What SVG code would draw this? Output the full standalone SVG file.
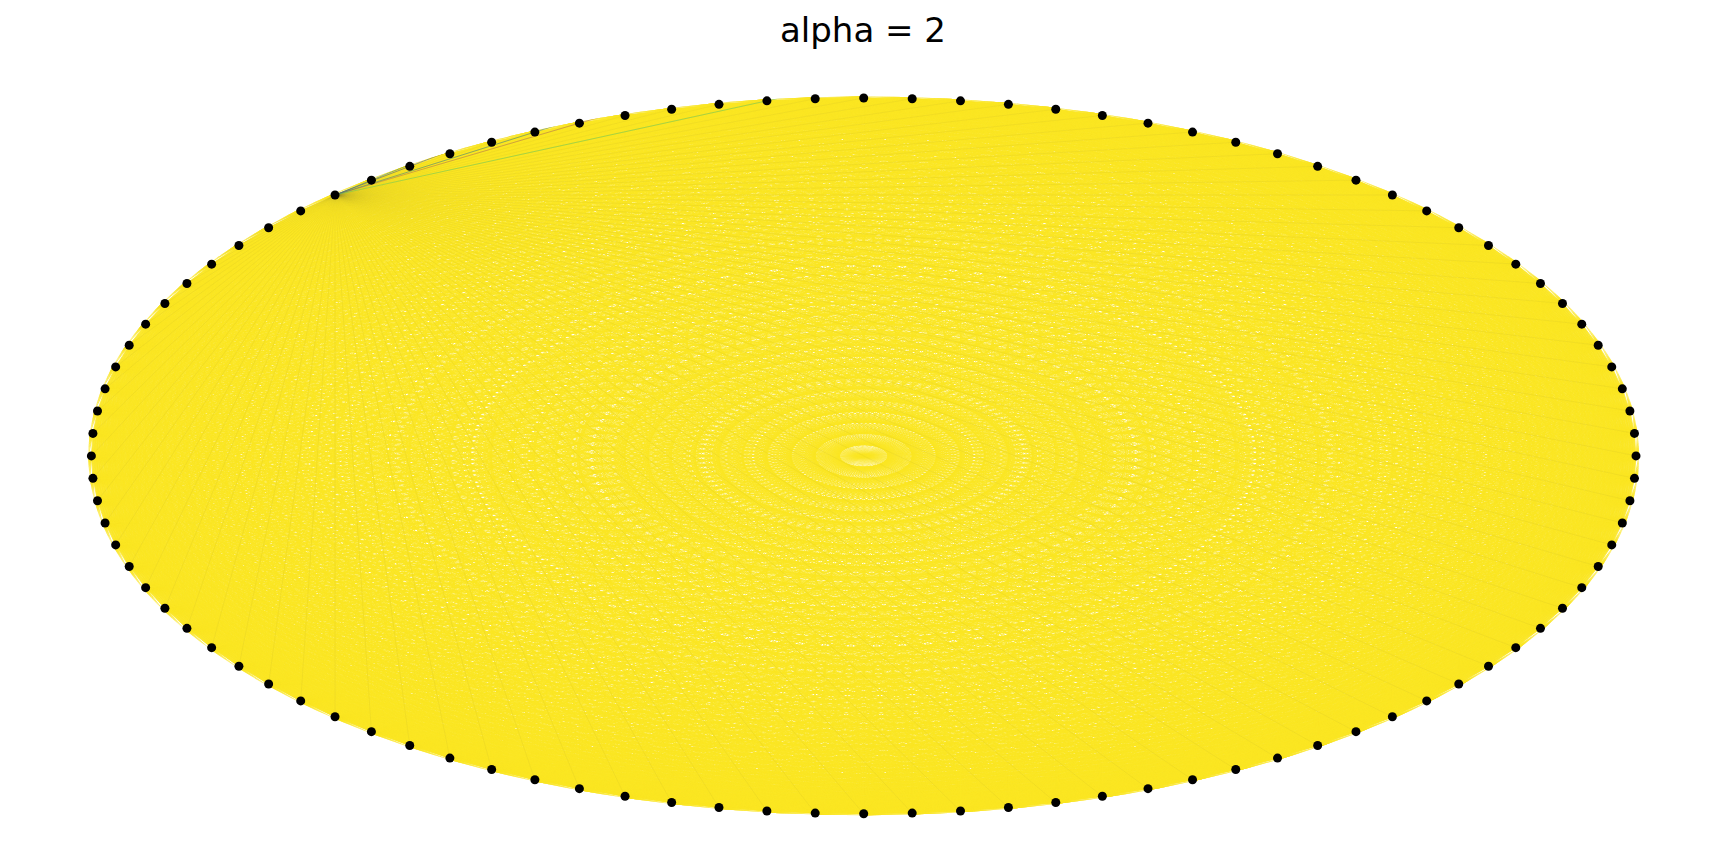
<svg xmlns="http://www.w3.org/2000/svg" xmlns:xlink="http://www.w3.org/1999/xlink" width="1728" height="865" viewBox="0 0 1728 865">
<style>
.title{font-family:"DejaVu Sans",sans-serif;font-size:34px;fill:#000}
.dot{fill:#000}
</style>
<defs>
<clipPath id="clip" clipPathUnits="userSpaceOnUse"><circle cx="0" cy="0" r="1.004"/></clipPath>
<g id="fan">
<line x1="1" y1="0" x2="1" y2="-2.2" transform="rotate(-1.8 1 0)" vector-effect="non-scaling-stroke"/>
<line x1="1" y1="0" x2="1" y2="-2.2" transform="rotate(-3.6 1 0)" vector-effect="non-scaling-stroke"/>
<line x1="1" y1="0" x2="1" y2="-2.2" transform="rotate(-5.4 1 0)" vector-effect="non-scaling-stroke"/>
<line x1="1" y1="0" x2="1" y2="-2.2" transform="rotate(-7.2 1 0)" vector-effect="non-scaling-stroke"/>
<line x1="1" y1="0" x2="1" y2="-2.2" transform="rotate(-9 1 0)" vector-effect="non-scaling-stroke"/>
<line x1="1" y1="0" x2="1" y2="-2.2" transform="rotate(-10.8 1 0)" vector-effect="non-scaling-stroke"/>
<line x1="1" y1="0" x2="1" y2="-2.2" transform="rotate(-12.6 1 0)" vector-effect="non-scaling-stroke"/>
<line x1="1" y1="0" x2="1" y2="-2.2" transform="rotate(-14.4 1 0)" vector-effect="non-scaling-stroke"/>
<line x1="1" y1="0" x2="1" y2="-2.2" transform="rotate(-16.2 1 0)" vector-effect="non-scaling-stroke"/>
<line x1="1" y1="0" x2="1" y2="-2.2" transform="rotate(-18 1 0)" vector-effect="non-scaling-stroke"/>
<line x1="1" y1="0" x2="1" y2="-2.2" transform="rotate(-19.8 1 0)" vector-effect="non-scaling-stroke"/>
<line x1="1" y1="0" x2="1" y2="-2.2" transform="rotate(-21.6 1 0)" vector-effect="non-scaling-stroke"/>
<line x1="1" y1="0" x2="1" y2="-2.2" transform="rotate(-23.4 1 0)" vector-effect="non-scaling-stroke"/>
<line x1="1" y1="0" x2="1" y2="-2.2" transform="rotate(-25.2 1 0)" vector-effect="non-scaling-stroke"/>
<line x1="1" y1="0" x2="1" y2="-2.2" transform="rotate(-27 1 0)" vector-effect="non-scaling-stroke"/>
<line x1="1" y1="0" x2="1" y2="-2.2" transform="rotate(-28.8 1 0)" vector-effect="non-scaling-stroke"/>
<line x1="1" y1="0" x2="1" y2="-2.2" transform="rotate(-30.6 1 0)" vector-effect="non-scaling-stroke"/>
<line x1="1" y1="0" x2="1" y2="-2.2" transform="rotate(-32.4 1 0)" vector-effect="non-scaling-stroke"/>
<line x1="1" y1="0" x2="1" y2="-2.2" transform="rotate(-34.2 1 0)" vector-effect="non-scaling-stroke"/>
<line x1="1" y1="0" x2="1" y2="-2.2" transform="rotate(-36 1 0)" vector-effect="non-scaling-stroke"/>
<line x1="1" y1="0" x2="1" y2="-2.2" transform="rotate(-37.8 1 0)" vector-effect="non-scaling-stroke"/>
<line x1="1" y1="0" x2="1" y2="-2.2" transform="rotate(-39.6 1 0)" vector-effect="non-scaling-stroke"/>
<line x1="1" y1="0" x2="1" y2="-2.2" transform="rotate(-41.4 1 0)" vector-effect="non-scaling-stroke"/>
<line x1="1" y1="0" x2="1" y2="-2.2" transform="rotate(-43.2 1 0)" vector-effect="non-scaling-stroke"/>
<line x1="1" y1="0" x2="1" y2="-2.2" transform="rotate(-45 1 0)" vector-effect="non-scaling-stroke"/>
<line x1="1" y1="0" x2="1" y2="-2.2" transform="rotate(-46.8 1 0)" vector-effect="non-scaling-stroke"/>
<line x1="1" y1="0" x2="1" y2="-2.2" transform="rotate(-48.6 1 0)" vector-effect="non-scaling-stroke"/>
<line x1="1" y1="0" x2="1" y2="-2.2" transform="rotate(-50.4 1 0)" vector-effect="non-scaling-stroke"/>
<line x1="1" y1="0" x2="1" y2="-2.2" transform="rotate(-52.2 1 0)" vector-effect="non-scaling-stroke"/>
<line x1="1" y1="0" x2="1" y2="-2.2" transform="rotate(-54 1 0)" vector-effect="non-scaling-stroke"/>
<line x1="1" y1="0" x2="1" y2="-2.2" transform="rotate(-55.8 1 0)" vector-effect="non-scaling-stroke"/>
<line x1="1" y1="0" x2="1" y2="-2.2" transform="rotate(-57.6 1 0)" vector-effect="non-scaling-stroke"/>
<line x1="1" y1="0" x2="1" y2="-2.2" transform="rotate(-59.4 1 0)" vector-effect="non-scaling-stroke"/>
<line x1="1" y1="0" x2="1" y2="-2.2" transform="rotate(-61.2 1 0)" vector-effect="non-scaling-stroke"/>
<line x1="1" y1="0" x2="1" y2="-2.2" transform="rotate(-63 1 0)" vector-effect="non-scaling-stroke"/>
<line x1="1" y1="0" x2="1" y2="-2.2" transform="rotate(-64.8 1 0)" vector-effect="non-scaling-stroke"/>
<line x1="1" y1="0" x2="1" y2="-2.2" transform="rotate(-66.6 1 0)" vector-effect="non-scaling-stroke"/>
<line x1="1" y1="0" x2="1" y2="-2.2" transform="rotate(-68.4 1 0)" vector-effect="non-scaling-stroke"/>
<line x1="1" y1="0" x2="1" y2="-2.2" transform="rotate(-70.2 1 0)" vector-effect="non-scaling-stroke"/>
<line x1="1" y1="0" x2="1" y2="-2.2" transform="rotate(-72 1 0)" vector-effect="non-scaling-stroke"/>
<line x1="1" y1="0" x2="1" y2="-2.2" transform="rotate(-73.8 1 0)" vector-effect="non-scaling-stroke"/>
<line x1="1" y1="0" x2="1" y2="-2.2" transform="rotate(-75.6 1 0)" vector-effect="non-scaling-stroke"/>
<line x1="1" y1="0" x2="1" y2="-2.2" transform="rotate(-77.4 1 0)" vector-effect="non-scaling-stroke"/>
<line x1="1" y1="0" x2="1" y2="-2.2" transform="rotate(-79.2 1 0)" vector-effect="non-scaling-stroke"/>
<line x1="1" y1="0" x2="1" y2="-2.2" transform="rotate(-81 1 0)" vector-effect="non-scaling-stroke"/>
<line x1="1" y1="0" x2="1" y2="-2.2" transform="rotate(-82.8 1 0)" vector-effect="non-scaling-stroke"/>
<line x1="1" y1="0" x2="1" y2="-2.2" transform="rotate(-84.6 1 0)" vector-effect="non-scaling-stroke"/>
<line x1="1" y1="0" x2="1" y2="-2.2" transform="rotate(-86.4 1 0)" vector-effect="non-scaling-stroke"/>
<line x1="1" y1="0" x2="1" y2="-2.2" transform="rotate(-88.2 1 0)" vector-effect="non-scaling-stroke"/>
</g>
<line id="dia" x1="1" y1="0" x2="-1" y2="0" vector-effect="non-scaling-stroke"/>
</defs>
<rect x="0" y="0" width="1728" height="865" fill="#ffffff"/>
<text class="title" x="863" y="42" text-anchor="middle">alpha = 2</text>
<g id="connectors" transform="translate(863.7 455.9) scale(772.3 357.9)">
<g clip-path="url(#clip)" fill="none">
<g id="edges-all" stroke="#fbe622" stroke-width="1" stroke-opacity="0.72">
<use href="#fan" transform="rotate(0)"/><use href="#fan" transform="rotate(-3.6)"/><use href="#fan" transform="rotate(-7.2)"/><use href="#fan" transform="rotate(-10.8)"/><use href="#fan" transform="rotate(-14.4)"/><use href="#fan" transform="rotate(-18)"/><use href="#fan" transform="rotate(-21.6)"/><use href="#fan" transform="rotate(-25.2)"/><use href="#fan" transform="rotate(-28.8)"/><use href="#fan" transform="rotate(-32.4)"/>
<use href="#fan" transform="rotate(-36)"/><use href="#fan" transform="rotate(-39.6)"/><use href="#fan" transform="rotate(-43.2)"/><use href="#fan" transform="rotate(-46.8)"/><use href="#fan" transform="rotate(-50.4)"/><use href="#fan" transform="rotate(-54)"/><use href="#fan" transform="rotate(-57.6)"/><use href="#fan" transform="rotate(-61.2)"/><use href="#fan" transform="rotate(-64.8)"/><use href="#fan" transform="rotate(-68.4)"/>
<use href="#fan" transform="rotate(-72)"/><use href="#fan" transform="rotate(-75.6)"/><use href="#fan" transform="rotate(-79.2)"/><use href="#fan" transform="rotate(-82.8)"/><use href="#fan" transform="rotate(-86.4)"/><use href="#fan" transform="rotate(-90)"/><use href="#fan" transform="rotate(-93.6)"/><use href="#fan" transform="rotate(-97.2)"/><use href="#fan" transform="rotate(-100.8)"/><use href="#fan" transform="rotate(-104.4)"/>
<use href="#fan" transform="rotate(-108)"/><use href="#fan" transform="rotate(-111.6)"/><use href="#fan" transform="rotate(-115.2)"/><use href="#fan" transform="rotate(-118.8)"/><use href="#fan" transform="rotate(-122.4)"/><use href="#fan" transform="rotate(-126)"/><use href="#fan" transform="rotate(-129.6)"/><use href="#fan" transform="rotate(-133.2)"/><use href="#fan" transform="rotate(-136.8)"/><use href="#fan" transform="rotate(-140.4)"/>
<use href="#fan" transform="rotate(-144)"/><use href="#fan" transform="rotate(-147.6)"/><use href="#fan" transform="rotate(-151.2)"/><use href="#fan" transform="rotate(-154.8)"/><use href="#fan" transform="rotate(-158.4)"/><use href="#fan" transform="rotate(-162)"/><use href="#fan" transform="rotate(-165.6)"/><use href="#fan" transform="rotate(-169.2)"/><use href="#fan" transform="rotate(-172.8)"/><use href="#fan" transform="rotate(-176.4)"/>
<use href="#fan" transform="rotate(-180)"/><use href="#fan" transform="rotate(-183.6)"/><use href="#fan" transform="rotate(-187.2)"/><use href="#fan" transform="rotate(-190.8)"/><use href="#fan" transform="rotate(-194.4)"/><use href="#fan" transform="rotate(-198)"/><use href="#fan" transform="rotate(-201.6)"/><use href="#fan" transform="rotate(-205.2)"/><use href="#fan" transform="rotate(-208.8)"/><use href="#fan" transform="rotate(-212.4)"/>
<use href="#fan" transform="rotate(-216)"/><use href="#fan" transform="rotate(-219.6)"/><use href="#fan" transform="rotate(-223.2)"/><use href="#fan" transform="rotate(-226.8)"/><use href="#fan" transform="rotate(-230.4)"/><use href="#fan" transform="rotate(-234)"/><use href="#fan" transform="rotate(-237.6)"/><use href="#fan" transform="rotate(-241.2)"/><use href="#fan" transform="rotate(-244.8)"/><use href="#fan" transform="rotate(-248.4)"/>
<use href="#fan" transform="rotate(-252)"/><use href="#fan" transform="rotate(-255.6)"/><use href="#fan" transform="rotate(-259.2)"/><use href="#fan" transform="rotate(-262.8)"/><use href="#fan" transform="rotate(-266.4)"/><use href="#fan" transform="rotate(-270)"/><use href="#fan" transform="rotate(-273.6)"/><use href="#fan" transform="rotate(-277.2)"/><use href="#fan" transform="rotate(-280.8)"/><use href="#fan" transform="rotate(-284.4)"/>
<use href="#fan" transform="rotate(-288)"/><use href="#fan" transform="rotate(-291.6)"/><use href="#fan" transform="rotate(-295.2)"/><use href="#fan" transform="rotate(-298.8)"/><use href="#fan" transform="rotate(-302.4)"/><use href="#fan" transform="rotate(-306)"/><use href="#fan" transform="rotate(-309.6)"/><use href="#fan" transform="rotate(-313.2)"/><use href="#fan" transform="rotate(-316.8)"/><use href="#fan" transform="rotate(-320.4)"/>
<use href="#fan" transform="rotate(-324)"/><use href="#fan" transform="rotate(-327.6)"/><use href="#fan" transform="rotate(-331.2)"/><use href="#fan" transform="rotate(-334.8)"/><use href="#fan" transform="rotate(-338.4)"/><use href="#fan" transform="rotate(-342)"/><use href="#fan" transform="rotate(-345.6)"/><use href="#fan" transform="rotate(-349.2)"/><use href="#fan" transform="rotate(-352.8)"/><use href="#fan" transform="rotate(-356.4)"/>
<use href="#dia" transform="rotate(0)"/><use href="#dia" transform="rotate(-3.6)"/><use href="#dia" transform="rotate(-7.2)"/><use href="#dia" transform="rotate(-10.8)"/><use href="#dia" transform="rotate(-14.4)"/><use href="#dia" transform="rotate(-18)"/><use href="#dia" transform="rotate(-21.6)"/><use href="#dia" transform="rotate(-25.2)"/><use href="#dia" transform="rotate(-28.8)"/><use href="#dia" transform="rotate(-32.4)"/>
<use href="#dia" transform="rotate(-36)"/><use href="#dia" transform="rotate(-39.6)"/><use href="#dia" transform="rotate(-43.2)"/><use href="#dia" transform="rotate(-46.8)"/><use href="#dia" transform="rotate(-50.4)"/><use href="#dia" transform="rotate(-54)"/><use href="#dia" transform="rotate(-57.6)"/><use href="#dia" transform="rotate(-61.2)"/><use href="#dia" transform="rotate(-64.8)"/><use href="#dia" transform="rotate(-68.4)"/>
<use href="#dia" transform="rotate(-72)"/><use href="#dia" transform="rotate(-75.6)"/><use href="#dia" transform="rotate(-79.2)"/><use href="#dia" transform="rotate(-82.8)"/><use href="#dia" transform="rotate(-86.4)"/><use href="#dia" transform="rotate(-90)"/><use href="#dia" transform="rotate(-93.6)"/><use href="#dia" transform="rotate(-97.2)"/><use href="#dia" transform="rotate(-100.8)"/><use href="#dia" transform="rotate(-104.4)"/>
<use href="#dia" transform="rotate(-108)"/><use href="#dia" transform="rotate(-111.6)"/><use href="#dia" transform="rotate(-115.2)"/><use href="#dia" transform="rotate(-118.8)"/><use href="#dia" transform="rotate(-122.4)"/><use href="#dia" transform="rotate(-126)"/><use href="#dia" transform="rotate(-129.6)"/><use href="#dia" transform="rotate(-133.2)"/><use href="#dia" transform="rotate(-136.8)"/><use href="#dia" transform="rotate(-140.4)"/>
<use href="#dia" transform="rotate(-144)"/><use href="#dia" transform="rotate(-147.6)"/><use href="#dia" transform="rotate(-151.2)"/><use href="#dia" transform="rotate(-154.8)"/><use href="#dia" transform="rotate(-158.4)"/><use href="#dia" transform="rotate(-162)"/><use href="#dia" transform="rotate(-165.6)"/><use href="#dia" transform="rotate(-169.2)"/><use href="#dia" transform="rotate(-172.8)"/><use href="#dia" transform="rotate(-176.4)"/>
</g>
<g id="edges-node37" transform="rotate(-133.2)" stroke="#605c50" stroke-opacity="0.07" stroke-width="0.8">
<use href="#fan"/><use href="#fan" transform="scale(1 -1)"/><use href="#dia"/>
</g>
<g id="edges-node37-near" transform="rotate(-133.2)" stroke-width="1" stroke-opacity="0.5">
<line x1="1" y1="0" x2="1" y2="2.2" transform="rotate(1.8 1 0)" stroke="#2a788e" vector-effect="non-scaling-stroke"/>
<line x1="1" y1="0" x2="1" y2="2.2" transform="rotate(3.6 1 0)" stroke="#3b528b" vector-effect="non-scaling-stroke"/>
<line x1="1" y1="0" x2="1" y2="2.2" transform="rotate(10.8 1 0)" stroke="#b06a55" vector-effect="non-scaling-stroke"/>
<line x1="1" y1="0" x2="1" y2="2.2" transform="rotate(9 1 0)" stroke="#2a788e" vector-effect="non-scaling-stroke"/>
<line x1="1" y1="0" x2="1" y2="2.2" transform="rotate(18 1 0)" stroke="#5ec962" vector-effect="non-scaling-stroke"/>
</g>
</g>
</g>
<g id="nodes" transform="translate(863.7 455.9) scale(772.3 357.9)" class="dot">
<g id="node-0" transform="rotate(0) translate(1 0) rotate(0) scale(0.00129483 0.00279408)"><circle r="4.5"/></g>
<g id="node-1" transform="rotate(-3.6) translate(1 0) rotate(3.6) scale(0.00129483 0.00279408)"><circle r="4.5"/></g>
<g id="node-2" transform="rotate(-7.2) translate(1 0) rotate(7.2) scale(0.00129483 0.00279408)"><circle r="4.5"/></g>
<g id="node-3" transform="rotate(-10.8) translate(1 0) rotate(10.8) scale(0.00129483 0.00279408)"><circle r="4.5"/></g>
<g id="node-4" transform="rotate(-14.4) translate(1 0) rotate(14.4) scale(0.00129483 0.00279408)"><circle r="4.5"/></g>
<g id="node-5" transform="rotate(-18) translate(1 0) rotate(18) scale(0.00129483 0.00279408)"><circle r="4.5"/></g>
<g id="node-6" transform="rotate(-21.6) translate(1 0) rotate(21.6) scale(0.00129483 0.00279408)"><circle r="4.5"/></g>
<g id="node-7" transform="rotate(-25.2) translate(1 0) rotate(25.2) scale(0.00129483 0.00279408)"><circle r="4.5"/></g>
<g id="node-8" transform="rotate(-28.8) translate(1 0) rotate(28.8) scale(0.00129483 0.00279408)"><circle r="4.5"/></g>
<g id="node-9" transform="rotate(-32.4) translate(1 0) rotate(32.4) scale(0.00129483 0.00279408)"><circle r="4.5"/></g>
<g id="node-10" transform="rotate(-36) translate(1 0) rotate(36) scale(0.00129483 0.00279408)"><circle r="4.5"/></g>
<g id="node-11" transform="rotate(-39.6) translate(1 0) rotate(39.6) scale(0.00129483 0.00279408)"><circle r="4.5"/></g>
<g id="node-12" transform="rotate(-43.2) translate(1 0) rotate(43.2) scale(0.00129483 0.00279408)"><circle r="4.5"/></g>
<g id="node-13" transform="rotate(-46.8) translate(1 0) rotate(46.8) scale(0.00129483 0.00279408)"><circle r="4.5"/></g>
<g id="node-14" transform="rotate(-50.4) translate(1 0) rotate(50.4) scale(0.00129483 0.00279408)"><circle r="4.5"/></g>
<g id="node-15" transform="rotate(-54) translate(1 0) rotate(54) scale(0.00129483 0.00279408)"><circle r="4.5"/></g>
<g id="node-16" transform="rotate(-57.6) translate(1 0) rotate(57.6) scale(0.00129483 0.00279408)"><circle r="4.5"/></g>
<g id="node-17" transform="rotate(-61.2) translate(1 0) rotate(61.2) scale(0.00129483 0.00279408)"><circle r="4.5"/></g>
<g id="node-18" transform="rotate(-64.8) translate(1 0) rotate(64.8) scale(0.00129483 0.00279408)"><circle r="4.5"/></g>
<g id="node-19" transform="rotate(-68.4) translate(1 0) rotate(68.4) scale(0.00129483 0.00279408)"><circle r="4.5"/></g>
<g id="node-20" transform="rotate(-72) translate(1 0) rotate(72) scale(0.00129483 0.00279408)"><circle r="4.5"/></g>
<g id="node-21" transform="rotate(-75.6) translate(1 0) rotate(75.6) scale(0.00129483 0.00279408)"><circle r="4.5"/></g>
<g id="node-22" transform="rotate(-79.2) translate(1 0) rotate(79.2) scale(0.00129483 0.00279408)"><circle r="4.5"/></g>
<g id="node-23" transform="rotate(-82.8) translate(1 0) rotate(82.8) scale(0.00129483 0.00279408)"><circle r="4.5"/></g>
<g id="node-24" transform="rotate(-86.4) translate(1 0) rotate(86.4) scale(0.00129483 0.00279408)"><circle r="4.5"/></g>
<g id="node-25" transform="rotate(-90) translate(1 0) rotate(90) scale(0.00129483 0.00279408)"><circle r="4.5"/></g>
<g id="node-26" transform="rotate(-93.6) translate(1 0) rotate(93.6) scale(0.00129483 0.00279408)"><circle r="4.5"/></g>
<g id="node-27" transform="rotate(-97.2) translate(1 0) rotate(97.2) scale(0.00129483 0.00279408)"><circle r="4.5"/></g>
<g id="node-28" transform="rotate(-100.8) translate(1 0) rotate(100.8) scale(0.00129483 0.00279408)"><circle r="4.5"/></g>
<g id="node-29" transform="rotate(-104.4) translate(1 0) rotate(104.4) scale(0.00129483 0.00279408)"><circle r="4.5"/></g>
<g id="node-30" transform="rotate(-108) translate(1 0) rotate(108) scale(0.00129483 0.00279408)"><circle r="4.5"/></g>
<g id="node-31" transform="rotate(-111.6) translate(1 0) rotate(111.6) scale(0.00129483 0.00279408)"><circle r="4.5"/></g>
<g id="node-32" transform="rotate(-115.2) translate(1 0) rotate(115.2) scale(0.00129483 0.00279408)"><circle r="4.5"/></g>
<g id="node-33" transform="rotate(-118.8) translate(1 0) rotate(118.8) scale(0.00129483 0.00279408)"><circle r="4.5"/></g>
<g id="node-34" transform="rotate(-122.4) translate(1 0) rotate(122.4) scale(0.00129483 0.00279408)"><circle r="4.5"/></g>
<g id="node-35" transform="rotate(-126) translate(1 0) rotate(126) scale(0.00129483 0.00279408)"><circle r="4.5"/></g>
<g id="node-36" transform="rotate(-129.6) translate(1 0) rotate(129.6) scale(0.00129483 0.00279408)"><circle r="4.5"/></g>
<g id="node-37" transform="rotate(-133.2) translate(1 0) rotate(133.2) scale(0.00129483 0.00279408)"><circle r="4.5"/></g>
<g id="node-38" transform="rotate(-136.8) translate(1 0) rotate(136.8) scale(0.00129483 0.00279408)"><circle r="4.5"/></g>
<g id="node-39" transform="rotate(-140.4) translate(1 0) rotate(140.4) scale(0.00129483 0.00279408)"><circle r="4.5"/></g>
<g id="node-40" transform="rotate(-144) translate(1 0) rotate(144) scale(0.00129483 0.00279408)"><circle r="4.5"/></g>
<g id="node-41" transform="rotate(-147.6) translate(1 0) rotate(147.6) scale(0.00129483 0.00279408)"><circle r="4.5"/></g>
<g id="node-42" transform="rotate(-151.2) translate(1 0) rotate(151.2) scale(0.00129483 0.00279408)"><circle r="4.5"/></g>
<g id="node-43" transform="rotate(-154.8) translate(1 0) rotate(154.8) scale(0.00129483 0.00279408)"><circle r="4.5"/></g>
<g id="node-44" transform="rotate(-158.4) translate(1 0) rotate(158.4) scale(0.00129483 0.00279408)"><circle r="4.5"/></g>
<g id="node-45" transform="rotate(-162) translate(1 0) rotate(162) scale(0.00129483 0.00279408)"><circle r="4.5"/></g>
<g id="node-46" transform="rotate(-165.6) translate(1 0) rotate(165.6) scale(0.00129483 0.00279408)"><circle r="4.5"/></g>
<g id="node-47" transform="rotate(-169.2) translate(1 0) rotate(169.2) scale(0.00129483 0.00279408)"><circle r="4.5"/></g>
<g id="node-48" transform="rotate(-172.8) translate(1 0) rotate(172.8) scale(0.00129483 0.00279408)"><circle r="4.5"/></g>
<g id="node-49" transform="rotate(-176.4) translate(1 0) rotate(176.4) scale(0.00129483 0.00279408)"><circle r="4.5"/></g>
<g id="node-50" transform="rotate(-180) translate(1 0) rotate(180) scale(0.00129483 0.00279408)"><circle r="4.5"/></g>
<g id="node-51" transform="rotate(-183.6) translate(1 0) rotate(183.6) scale(0.00129483 0.00279408)"><circle r="4.5"/></g>
<g id="node-52" transform="rotate(-187.2) translate(1 0) rotate(187.2) scale(0.00129483 0.00279408)"><circle r="4.5"/></g>
<g id="node-53" transform="rotate(-190.8) translate(1 0) rotate(190.8) scale(0.00129483 0.00279408)"><circle r="4.5"/></g>
<g id="node-54" transform="rotate(-194.4) translate(1 0) rotate(194.4) scale(0.00129483 0.00279408)"><circle r="4.5"/></g>
<g id="node-55" transform="rotate(-198) translate(1 0) rotate(198) scale(0.00129483 0.00279408)"><circle r="4.5"/></g>
<g id="node-56" transform="rotate(-201.6) translate(1 0) rotate(201.6) scale(0.00129483 0.00279408)"><circle r="4.5"/></g>
<g id="node-57" transform="rotate(-205.2) translate(1 0) rotate(205.2) scale(0.00129483 0.00279408)"><circle r="4.5"/></g>
<g id="node-58" transform="rotate(-208.8) translate(1 0) rotate(208.8) scale(0.00129483 0.00279408)"><circle r="4.5"/></g>
<g id="node-59" transform="rotate(-212.4) translate(1 0) rotate(212.4) scale(0.00129483 0.00279408)"><circle r="4.5"/></g>
<g id="node-60" transform="rotate(-216) translate(1 0) rotate(216) scale(0.00129483 0.00279408)"><circle r="4.5"/></g>
<g id="node-61" transform="rotate(-219.6) translate(1 0) rotate(219.6) scale(0.00129483 0.00279408)"><circle r="4.5"/></g>
<g id="node-62" transform="rotate(-223.2) translate(1 0) rotate(223.2) scale(0.00129483 0.00279408)"><circle r="4.5"/></g>
<g id="node-63" transform="rotate(-226.8) translate(1 0) rotate(226.8) scale(0.00129483 0.00279408)"><circle r="4.5"/></g>
<g id="node-64" transform="rotate(-230.4) translate(1 0) rotate(230.4) scale(0.00129483 0.00279408)"><circle r="4.5"/></g>
<g id="node-65" transform="rotate(-234) translate(1 0) rotate(234) scale(0.00129483 0.00279408)"><circle r="4.5"/></g>
<g id="node-66" transform="rotate(-237.6) translate(1 0) rotate(237.6) scale(0.00129483 0.00279408)"><circle r="4.5"/></g>
<g id="node-67" transform="rotate(-241.2) translate(1 0) rotate(241.2) scale(0.00129483 0.00279408)"><circle r="4.5"/></g>
<g id="node-68" transform="rotate(-244.8) translate(1 0) rotate(244.8) scale(0.00129483 0.00279408)"><circle r="4.5"/></g>
<g id="node-69" transform="rotate(-248.4) translate(1 0) rotate(248.4) scale(0.00129483 0.00279408)"><circle r="4.5"/></g>
<g id="node-70" transform="rotate(-252) translate(1 0) rotate(252) scale(0.00129483 0.00279408)"><circle r="4.5"/></g>
<g id="node-71" transform="rotate(-255.6) translate(1 0) rotate(255.6) scale(0.00129483 0.00279408)"><circle r="4.5"/></g>
<g id="node-72" transform="rotate(-259.2) translate(1 0) rotate(259.2) scale(0.00129483 0.00279408)"><circle r="4.5"/></g>
<g id="node-73" transform="rotate(-262.8) translate(1 0) rotate(262.8) scale(0.00129483 0.00279408)"><circle r="4.5"/></g>
<g id="node-74" transform="rotate(-266.4) translate(1 0) rotate(266.4) scale(0.00129483 0.00279408)"><circle r="4.5"/></g>
<g id="node-75" transform="rotate(-270) translate(1 0) rotate(270) scale(0.00129483 0.00279408)"><circle r="4.5"/></g>
<g id="node-76" transform="rotate(-273.6) translate(1 0) rotate(273.6) scale(0.00129483 0.00279408)"><circle r="4.5"/></g>
<g id="node-77" transform="rotate(-277.2) translate(1 0) rotate(277.2) scale(0.00129483 0.00279408)"><circle r="4.5"/></g>
<g id="node-78" transform="rotate(-280.8) translate(1 0) rotate(280.8) scale(0.00129483 0.00279408)"><circle r="4.5"/></g>
<g id="node-79" transform="rotate(-284.4) translate(1 0) rotate(284.4) scale(0.00129483 0.00279408)"><circle r="4.5"/></g>
<g id="node-80" transform="rotate(-288) translate(1 0) rotate(288) scale(0.00129483 0.00279408)"><circle r="4.5"/></g>
<g id="node-81" transform="rotate(-291.6) translate(1 0) rotate(291.6) scale(0.00129483 0.00279408)"><circle r="4.5"/></g>
<g id="node-82" transform="rotate(-295.2) translate(1 0) rotate(295.2) scale(0.00129483 0.00279408)"><circle r="4.5"/></g>
<g id="node-83" transform="rotate(-298.8) translate(1 0) rotate(298.8) scale(0.00129483 0.00279408)"><circle r="4.5"/></g>
<g id="node-84" transform="rotate(-302.4) translate(1 0) rotate(302.4) scale(0.00129483 0.00279408)"><circle r="4.5"/></g>
<g id="node-85" transform="rotate(-306) translate(1 0) rotate(306) scale(0.00129483 0.00279408)"><circle r="4.5"/></g>
<g id="node-86" transform="rotate(-309.6) translate(1 0) rotate(309.6) scale(0.00129483 0.00279408)"><circle r="4.5"/></g>
<g id="node-87" transform="rotate(-313.2) translate(1 0) rotate(313.2) scale(0.00129483 0.00279408)"><circle r="4.5"/></g>
<g id="node-88" transform="rotate(-316.8) translate(1 0) rotate(316.8) scale(0.00129483 0.00279408)"><circle r="4.5"/></g>
<g id="node-89" transform="rotate(-320.4) translate(1 0) rotate(320.4) scale(0.00129483 0.00279408)"><circle r="4.5"/></g>
<g id="node-90" transform="rotate(-324) translate(1 0) rotate(324) scale(0.00129483 0.00279408)"><circle r="4.5"/></g>
<g id="node-91" transform="rotate(-327.6) translate(1 0) rotate(327.6) scale(0.00129483 0.00279408)"><circle r="4.5"/></g>
<g id="node-92" transform="rotate(-331.2) translate(1 0) rotate(331.2) scale(0.00129483 0.00279408)"><circle r="4.5"/></g>
<g id="node-93" transform="rotate(-334.8) translate(1 0) rotate(334.8) scale(0.00129483 0.00279408)"><circle r="4.5"/></g>
<g id="node-94" transform="rotate(-338.4) translate(1 0) rotate(338.4) scale(0.00129483 0.00279408)"><circle r="4.5"/></g>
<g id="node-95" transform="rotate(-342) translate(1 0) rotate(342) scale(0.00129483 0.00279408)"><circle r="4.5"/></g>
<g id="node-96" transform="rotate(-345.6) translate(1 0) rotate(345.6) scale(0.00129483 0.00279408)"><circle r="4.5"/></g>
<g id="node-97" transform="rotate(-349.2) translate(1 0) rotate(349.2) scale(0.00129483 0.00279408)"><circle r="4.5"/></g>
<g id="node-98" transform="rotate(-352.8) translate(1 0) rotate(352.8) scale(0.00129483 0.00279408)"><circle r="4.5"/></g>
<g id="node-99" transform="rotate(-356.4) translate(1 0) rotate(356.4) scale(0.00129483 0.00279408)"><circle r="4.5"/></g>
</g>
</svg>
